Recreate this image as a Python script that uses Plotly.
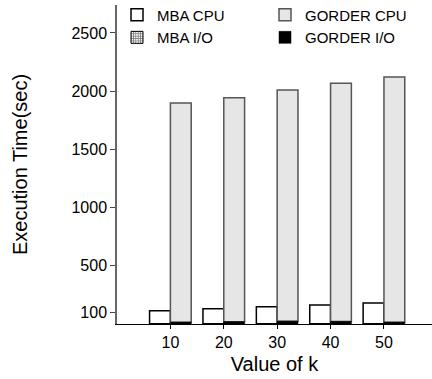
import plotly.graph_objects as go

k_values = ["10", "20", "30", "40", "50"]
mba_io = [3, 3, 3, 3, 3]
mba_cpu = [111, 128, 146, 160, 177]
gorder_io = [16, 20, 24, 22, 16]
gorder_cpu = [1883, 1924, 1986, 2045, 2106]
y_ticks = [100, 500, 1000, 1500, 2000, 2500]

W = 0.39
fig = go.Figure()
fig.add_trace(go.Bar(name="MBA CPU", x=k_values, y=mba_cpu, base=mba_io,
                     width=W, offset=-W, marker=dict(color="white", line=dict(color="black", width=1.5)),
                     legendrank=1))
fig.add_trace(go.Bar(name="MBA I/O", x=k_values, y=mba_io,
                     width=W, offset=-W,
                     marker=dict(color="white", line=dict(color="black", width=1),
                                 pattern=dict(shape="+", fgcolor="black", bgcolor="white", size=3, solidity=0.6)),
                     legendrank=3))
fig.add_trace(go.Bar(name="GORDER CPU", x=k_values, y=gorder_cpu, base=gorder_io,
                     width=W, offset=0, marker=dict(color="#e6e6e6", line=dict(color="#555555", width=1.5)),
                     legendrank=2))
fig.add_trace(go.Bar(name="GORDER I/O", x=k_values, y=gorder_io,
                     width=W, offset=0, marker=dict(color="black", line=dict(color="black", width=0.5)),
                     legendrank=4))

font = "Liberation Sans, Arial, sans-serif"
fig.update_layout(
    width=432, height=379,
    barmode="overlay",
    plot_bgcolor="white", paper_bgcolor="white",
    margin=dict(l=117, r=0, t=5, b=55, autoexpand=False),
    font=dict(family=font, color="black", size=14),
    legend=dict(orientation="h", x=0.0, y=1.02, xanchor="left", yanchor="top",
                entrywidth=103, entrywidthmode="pixels",
                font=dict(size=15, family=font), bgcolor="rgba(0,0,0,0)",
                traceorder="normal", itemwidth=30),
    xaxis=dict(type="category", range=[-1, 4.9], showline=True, linecolor="black", linewidth=1,
               ticks="outside", ticklen=4, tickcolor="black", showgrid=False, automargin=False,
               title=dict(text="Value of k", font=dict(size=20), standoff=6),
               tickfont=dict(size=16)),
    yaxis=dict(range=[0, 2740], tickvals=y_ticks, showline=True, linecolor="#666666", linewidth=1.5,
               ticks="outside", ticklen=5, tickcolor="#444444", showgrid=False, zeroline=False,
               automargin=False,
               title=dict(text="Execution Time(sec)", font=dict(size=20), standoff=38),
               tickfont=dict(size=16)),
)
fig.write_html("out.html", config={"displayModeBar": False},
               post_script="document.body.style.margin='0';")
